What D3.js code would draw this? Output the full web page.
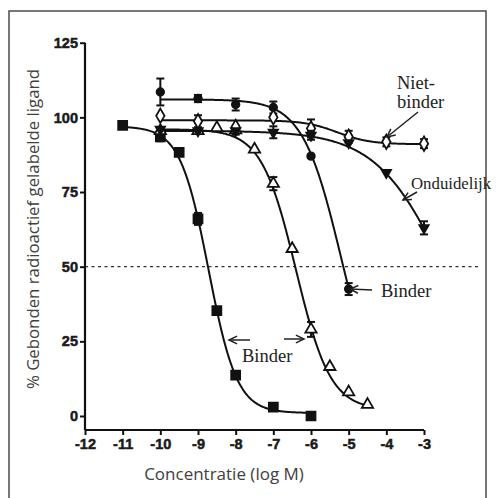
<!DOCTYPE html>
<html>
<head>
<meta charset="utf-8">
<title>Binding curves</title>
<style>
  body{ margin:0; background:#fff; }
  svg{ display:block; }
</style>
</head>
<body>
<script src="https://cdn.jsdelivr.net/npm/d3@7"></script>
<script>
// ---- data ----
var xTicks = [-12,-11,-10,-9,-8,-7,-6,-5,-4,-3];
var yTicks = [0,25,50,75,100,125];

// filled squares, binder
var sqX   = [-11,-10,-9.5,-9,-8.5,-8,-7,-6];
var sqY   = [97.3,93.5,88.3,66,35.3,13.7,3,0];
var sqErr = [1,1.5,0,2,0,0,0,0];
var sqFit = [97,1,-8.72,1.15];          // top, bottom, logIC50, hill

// open triangles, binder
var trX   = [-10,-9,-8.5,-8,-7.5,-7,-6.5,-6,-5.5,-5,-4.5];
var trY   = [95.5,95.5,96.5,95.7,89.3,77.8,56,29,16.5,8,3.8];
var trErr = [0,0,0,1.5,0,2.2,0,2.5,0,0,0];
var trFit = [96,2,-6.4,0.95];

// filled circles, binder
var ciX   = [-10,-9,-8,-7,-6,-5];
var ciY   = [108.5,106.3,104.3,103.3,87,42.5];
var ciErr = [4.5,1.2,2,2,0,2];
var ciFit = [106,0,-5.2,0.85];

// open diamonds, niet-binder
var diX   = [-10,-9,-8,-7,-6,-5,-4,-3];
var diY   = [100.5,98.7,96.8,100,96.3,93.5,91.8,91.2];
var diErr = [0,2,0,0,3,2,1.5,1.5];
var diFit = [99,91,-5.3,1];

// filled down-triangles, onduidelijk
var dtX   = [-10,-9,-8,-7,-6,-5,-4,-3];
var dtY   = [96,95.5,95.5,95,94,91.5,81.5,63];
var dtErr = [0,0,0,2,1.5,0,0,2.2];
var dtFit = [95.5,0,-2.4,0.47];

var fitRanges = [[-11,-6],[-10,-4.5],[-10,-5],[-10,-3],[-10,-3]];

// ---- layout ----
var W = 496, H = 498;
var svg = d3.select('body').append('svg').attr('width', W).attr('height', H);

// outer frame
svg.append('rect').attr('x', 9).attr('y', 11).attr('width', 477).attr('height', 500)
  .attr('fill', 'none').attr('stroke', '#555').attr('stroke-width', 1.6);

var x = d3.scaleLinear().domain([-12,-3]).range([85,424]);
var y = d3.scaleLinear().domain([0,125]).range([416,42.7]);

// reference line at 50 %
svg.append('line').attr('x1', x(-12)).attr('x2', 478).attr('y1', y(50)).attr('y2', y(50))
  .attr('stroke', '#333').attr('stroke-width', 1.3).attr('stroke-dasharray', '3,3.5');

// axes
var yAxis = svg.append('g').attr('transform', 'translate(85,0)')
  .call(d3.axisLeft(y).tickValues(yTicks).tickSize(5).tickPadding(2));
yAxis.select('.domain').attr('d', 'M0,' + y(125) + 'V430');
var xAxis = svg.append('g').attr('transform', 'translate(0,430)')
  .call(d3.axisBottom(x).tickValues(xTicks).tickSize(5).tickPadding(4).tickFormat(function(d){ return String(d); }));
xAxis.select('.domain').attr('d', 'M' + x(-12) + ',0H' + x(-3));
svg.selectAll('.domain').attr('stroke', '#111').attr('stroke-width', 2.2);
svg.selectAll('.tick line').attr('stroke', '#111').attr('stroke-width', 2);
svg.selectAll('.tick text')
  .style('font-family', '"Liberation Sans", Arial, sans-serif')
  .style('font-weight', '700').style('font-size', '14.5px')
  .attr('fill', '#1a1a1a').attr('stroke', '#1a1a1a').attr('stroke-width', 0.5);

// axis titles
svg.append('text').attr('x', 224).attr('y', 480).attr('text-anchor', 'middle')
  .style('font-family', '"Open Sans", sans-serif').style('font-size', '17px').attr('fill', '#404040')
  .text('Concentratie (log M)');
svg.append('text').attr('transform', 'translate(39,229) rotate(-90)').attr('text-anchor', 'middle')
  .style('font-family', '"Open Sans", sans-serif').style('font-size', '16.8px').attr('fill', '#404040')
  .text('% Gebonden radioactief gelabelde ligand');

// fitted curves
function logistic(p){
  return function(v){ return p[1] + (p[0]-p[1]) / (1 + Math.pow(10, (v - p[2]) * p[3])); };
}
var fits = [sqFit, trFit, ciFit, diFit, dtFit];
var line = d3.line().x(function(d){ return x(d[0]); }).y(function(d){ return y(d[1]); });
fits.forEach(function(p, i){
  var f = logistic(p), r = fitRanges[i];
  var pts = d3.range(r[0], r[1] + 0.001, 0.02).map(function(v){ return [v, f(v)]; });
  svg.append('path').attr('d', line(pts)).attr('fill', 'none')
    .attr('stroke', '#111').attr('stroke-width', 2);
});

// error bars + markers
var series = [
  {xs: sqX, ys: sqY, err: sqErr, sym: d3.symbolSquare, size: 80, fill: '#111'},
  {xs: trX, ys: trY, err: trErr, sym: d3.symbolTriangle, size: 55, fill: '#fff'},
  {xs: ciX, ys: ciY, err: ciErr, sym: d3.symbolCircle, size: 45, fill: '#111'},
  {xs: diX, ys: diY, err: diErr, sym: d3.symbolDiamond, size: 60, fill: '#fff'},
  {xs: dtX, ys: dtY, err: dtErr, sym: d3.symbolTriangle, size: 38, fill: '#111', rot: 180}
];
series.forEach(function(s){
  var data = s.xs.map(function(v, i){ return {x: v, y: s.ys[i], e: s.err[i]}; });
  var g = svg.append('g');
  var eb = g.selectAll('.eb').data(data.filter(function(d){ return d.e > 0; })).enter().append('g')
    .attr('stroke', '#111').attr('stroke-width', 2);
  eb.append('line').attr('x1', function(d){ return x(d.x); }).attr('x2', function(d){ return x(d.x); })
    .attr('y1', function(d){ return y(d.y - d.e); }).attr('y2', function(d){ return y(d.y + d.e); });
  [1,-1].forEach(function(sg){
    eb.append('line').attr('x1', function(d){ return x(d.x) - 4; }).attr('x2', function(d){ return x(d.x) + 4; })
      .attr('y1', function(d){ return y(d.y + sg*d.e); }).attr('y2', function(d){ return y(d.y + sg*d.e); });
  });
  g.selectAll('.pt').data(data).enter().append('path')
    .attr('d', d3.symbol().type(s.sym).size(s.size))
    .attr('transform', function(d){ return 'translate(' + x(d.x) + ',' + y(d.y) + ')' + (s.rot ? ' rotate(' + s.rot + ')' : ''); })
    .attr('fill', s.fill).attr('stroke', '#111').attr('stroke-width', 1.8);
});

// annotations
var notes = [
  {t: 'Niet-', x: 397, y: 89, s: 18.5},
  {t: 'binder', x: 397, y: 108, s: 18.5},
  {t: 'Onduidelijk', x: 411, y: 189, s: 16.8},
  {t: 'Binder', x: 381, y: 297, s: 18.5},
  {t: 'Binder', x: 242, y: 362, s: 18.5}
];
svg.selectAll('.note').data(notes).enter().append('text')
  .attr('x', function(d){ return d.x; }).attr('y', function(d){ return d.y; })
  .style('font-family', '"Liberation Serif", "Times New Roman", serif')
  .style('font-size', function(d){ return d.s + 'px'; })
  .attr('fill', '#222').text(function(d){ return d.t; });

var arrows = [
  [418,112,387,137],
  [417,192,403,200],
  [372,290,350,289],
  [250,340,229,340],
  [284,339,304,339]
];
arrows.forEach(function(a){
  var ang = Math.atan2(a[3]-a[1], a[2]-a[0]), hl = 9, spread = 0.45;
  var g = svg.append('g').attr('stroke', '#222').attr('stroke-width', 1.5).attr('fill', 'none');
  g.append('line').attr('x1', a[0]).attr('y1', a[1]).attr('x2', a[2]).attr('y2', a[3]);
  g.append('path').attr('d', 'M' + (a[2] - hl*Math.cos(ang - spread)) + ',' + (a[3] - hl*Math.sin(ang - spread)) +
    'L' + a[2] + ',' + a[3] + 'L' + (a[2] - hl*Math.cos(ang + spread)) + ',' + (a[3] - hl*Math.sin(ang + spread)));
});
</script>
</body>
</html>
